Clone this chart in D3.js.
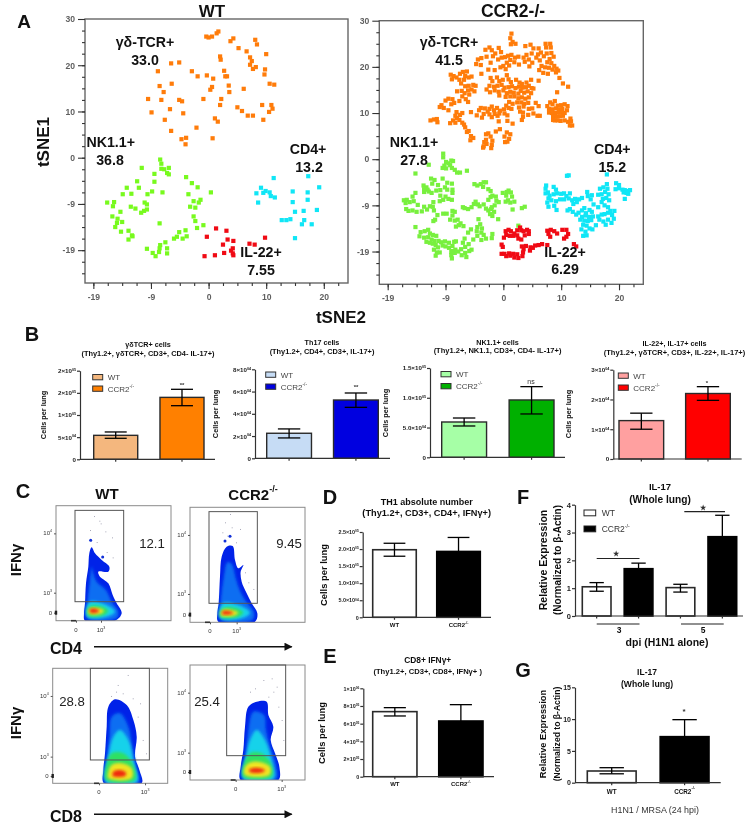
<!DOCTYPE html>
<html><head><meta charset="utf-8">
<script src="https://cdn.jsdelivr.net/npm/d3@7"></script>
<style>
html,body{margin:0;padding:0;background:#fff}
svg{display:block;font-family:"Liberation Sans",Arial,sans-serif;filter:blur(0.35px)}
</style></head><body>
<svg id="c" width="750" height="829"></svg>
<script>
// ---------- Panel A data (tSNE2, tSNE1) ----------
const tsneTickPositions=[-20,-10,0,10,20];
const tsneXLabels=["-19","-9","0","10","20"];
const tsneYPositions=[30,20,10,0,-10,-20];
const tsneYLabels=["30","20","10","0","-9","-19"];
const wtGammaDelta=[[-.4,26.2],[0,26],[.6,26.2],[1.4,26.9],[1.7,27.3],[3.8,25.2],[4.3,25.8],[5.2,23.7],[6.6,23],[8.1,25.5],[8.4,24.5],[10,22.4],[2,21.9],[2.1,21.2],[7.2,21.7],[7.5,20.9],[7.2,20.1],[7.7,19.2],[8.2,19.6],[9.8,19.1],[9.7,18],[10.6,16],[11.4,15.8],[2.7,18.8],[2.9,17.6],[3.2,17.6],[-.3,17.8],[.8,17.1],[-1.9,17.6],[-2.9,18.7],[-5.1,20.6],[-6.5,20.4],[-8.8,18.7],[-6.4,16],[-8.5,15.5],[-7.8,14.2],[-10.5,12.7],[-8.2,12.5],[-5.1,12.5],[-4.6,12.2],[-9.9,9.8],[-6.7,10.5],[-4.4,9.6],[-7.6,8.2],[-6.5,5.8],[-4.7,4],[-3.9,4.3],[-4,2.9],[-2.1,6.5],[.7,4.2],[-.9,12.7],[.3,14.7],[.6,15.3],[2.2,12.7],[2,11.4],[3.5,15.6],[3.6,14.2],[6.1,14.9],[5,10.9],[5.8,10.1],[6.8,9.1],[7.7,9.1],[9.3,11.4],[10.9,11.4],[11.1,10.6],[10.5,9.9],[9.5,8.2],[1.1,8.5],[1.6,7.8]];
const wtNK=[[-8.4,-.4],[-8.2,-1.3],[-8.2,-2.4],[-7.7,-2.5],[-6.9,-2.2],[-7.2,-3.3],[-6.9,-3.6],[-11.6,-2.2],[-9.4,-3.5],[-9.4,-5.2],[-12.4,-5.1],[-14.2,-6.5],[-14.9,-7.9],[-13.4,-7.8],[-12.1,-6.5],[-9.8,-7.3],[-10.6,-7.9],[-8,-7.5],[-17.6,-9.7],[-16.4,-9.6],[-16.6,-10.5],[-15.3,-11.7],[-16.7,-12.7],[-15.8,-13.2],[-15.9,-14.1],[-16.2,-15],[-15,-13.9],[-15.2,-16],[-13.9,-15.8],[-13.3,-16.8],[-13.9,-17.7],[-13.2,-17],[-13.5,-10.6],[-12.7,-11],[-11.1,-9.7],[-10.7,-10.1],[-10.7,-11.2],[-11.2,-11.5],[-11.7,-11.9],[-8.5,-14.2],[-3.9,-4.2],[-2.9,-5.5],[-1.9,-6.4],[.4,-7.5],[-3.5,-7.9],[-2.6,-9.4],[-1.4,-9.1],[-1.7,-9.7],[-3.2,-10.6],[-2.3,-10.8],[-2.6,-12.7],[-2.3,-13.7],[-2,-15.2],[-.9,-14.6],[-4,-15.7],[-5.1,-16.1],[-5.5,-17.1],[-6,-17.5],[-4.5,-17.5],[-3.8,-17],[-10.7,-19.7],[-9.7,-20.6],[-9.2,-21.3],[-8.4,-18.9],[-8.5,-19.6],[-8.6,-20.4],[-7.5,-18.3],[-7.2,-19.6],[-7.2,-20.7]];
const wtCD4=[[11.3,-4.4],[17.3,-4],[19.2,-6.4],[9.1,-6.5],[8.3,-7.7],[9.5,-7.6],[9.9,-7.2],[10.6,-7.5],[10.8,-8.3],[11.5,-8.6],[8.6,-9.7],[14.6,-7.3],[17.2,-7.5],[17.2,-9.1],[14.6,-9.6],[15,-11.7],[16.5,-11.5],[18.8,-11.3],[12.7,-13.5],[13.5,-13.5],[14.2,-13.3],[16.6,-13.5],[16.2,-14.4],[17.9,-14.4],[15,-17.4]];
const wtIL22=[[1.3,-15.3],[3.1,-15.8],[-.3,-17.1],[3.3,-17.7],[4.3,-18],[9.8,-17.3],[2.5,-18.8],[7.1,-18.6],[8,-18.8],[4.2,-19.6],[3.9,-20.1],[2.7,-20.6],[4.2,-20.7],[4.3,-21.1],[-.7,-21.3],[1.1,-21.1]];
const koGammaDelta=[[1.4,27.2],[1.2,26.2],[1.6,25.4],[2.1,25],[1.3,24.9],[3.8,24.5],[4.7,24.8],[5.2,24],[6.1,24],[6.5,23.1],[7.3,25],[8.1,25],[8.2,24.2],[7.4,24.2],[6,22.7],[5.7,22],[6.3,21.4],[7,22.3],[7.5,22.9],[8.3,23],[8.7,22.2],[8,21.7],[7.6,21],[8.3,20.8],[8.8,20.2],[9.2,19.6],[9.5,19.2],[9.1,18.8],[8.5,19.4],[7.9,19.8],[7.2,19.9],[6.6,20.2],[6.2,19.3],[6.9,18.7],[7.7,18.5],[9.7,17.6],[10.3,16.4],[11.2,15.7],[9.3,14.5],[6.1,17],[5.2,15.3],[-3.1,23.7],[-2.4,24.2],[-2,23.6],[-1.4,22.9],[-.8,24.1],[-.4,23.2],[-1.8,22.3],[-2.9,22.2],[-3.8,21.9],[-4.4,21.6],[-4.7,20.6],[-3.9,20.4],[-.9,21.6],[-.3,22],[.3,22.1],[.8,22.4],[1.4,22.6],[2,22],[2.6,22.2],[1.2,21.5],[.6,20.9],[0,20.2],[-.5,19.9],[.4,19.5],[1,20.3],[1.9,21],[2.7,20.5],[3.5,22],[4,22.6],[4.4,21.6],[4.9,22.9],[3.7,21.1],[5,20.9],[4.5,20.1],[-3.8,18.5],[-2.6,19.4],[-2.2,20.9],[-1.5,19.3],[-9.1,18.3],[-8.6,18],[-8.9,17.3],[-8.1,17.7],[-7.5,18.5],[-7,18.9],[-6.3,19],[-6.6,18],[-7.6,17.2],[-6.8,17.2],[-6,17.7],[-5.5,17.9],[-7.3,16.4],[-6.6,15.8],[-6,15.9],[-5.2,16.1],[-5.5,15.1],[-4.8,15.9],[-6.1,14.9],[-6.7,14.3],[-7.2,14.8],[-5,14.7],[-8,14.7],[-5.9,14],[-8.5,12.2],[-9.5,13.1],[-10,12.7],[-9,11.9],[-10.7,11.7],[-11,11.3],[-10.3,11.1],[-9.5,10.6],[-8.8,13],[-7.6,12.6],[-7.1,13.6],[-6.5,13],[-6.1,12.4],[-8.1,10.2],[-8.3,9.4],[-8,8.9],[-7.5,9.6],[-7.1,10],[-7.6,8.5],[-8.7,8.4],[-9.2,7.8],[-8.3,7.9],[-7.1,7.9],[-5.6,10.2],[-12.6,8.4],[-12,8.6],[-11.5,8.7],[-11.4,8],[-6.8,7.5],[-6.6,6.9],[-2.2,17.6],[-1.9,16.9],[-1.1,17.7],[-.7,16.9],[-.1,17.2],[.6,18.2],[.9,17.3],[1.3,16.7],[2.2,17.2],[2.8,16.6],[3.2,16.3],[4,16.6],[4.8,17.2],[-2.4,15.9],[-1.6,15.7],[-1,15.9],[-.3,16.1],[.2,15.5],[.9,15.6],[1.5,15.8],[2.1,15.4],[2.7,15.7],[3.3,15.5],[3.9,15.6],[4.4,15.9],[4.9,15.4],[-2.9,15.1],[-2.3,14.5],[-1.5,14.9],[-.8,14.6],[0,14.9],[.6,14.3],[1.2,14.6],[1.8,14.4],[2.6,14.2],[3,14.8],[3.6,14.4],[4.2,14.7],[4.8,14.3],[-.7,13.8],[.4,13.5],[1.2,13.6],[1.9,13.6],[2.6,13.2],[3.2,13.4],[3.8,13.1],[4.4,13.4],[2.4,12.3],[3.1,12.3],[3.6,12],[4.3,12.2],[1,12.4],[1.6,12],[.5,11.6],[5.6,12.2],[6.1,11.5],[5,11],[4.4,10.9],[3.5,11.4],[2.7,11.2],[1.4,10.9],[.9,11.1],[.1,10.8],[-.6,10.5],[-1.1,11.1],[-1.6,10.6],[-2,11.4],[-2.4,10.9],[-2.7,10.3],[-3.2,11],[-3.9,11.1],[-4.2,10.6],[-3.4,9.8],[-2.4,9.7],[-1.5,9.8],[-2,9.1],[-1,9.4],[-.7,9.9],[.2,9.9],[.7,9.5],[2.9,10.3],[3.4,10.1],[4.3,9.6],[5.2,9.9],[5.9,9.4],[6.3,9.4],[-3.7,9],[-4.6,9.5],[-.8,8.2],[.7,8.3],[1.6,7.7],[3.2,8.5],[3.4,9.2],[7.6,11.5],[8.1,12.3],[8.5,11.9],[8.9,12.6],[9.4,11.6],[10,11.7],[10.6,11.9],[11.1,11.5],[7.9,10.9],[8.5,10.8],[9.1,11],[9.6,10.8],[10.2,10.9],[11,10.6],[7.9,10.1],[8.4,10],[9,10],[9.6,10.1],[10.1,10.2],[10.6,10],[8.6,9.3],[9.2,9.2],[9.8,9.3],[10.3,9.4],[8.9,8.4],[9.4,8.4],[9.9,8.3],[10.6,8.4],[11.2,8.1],[11.7,8.2],[11.5,7.3],[11.9,7.3],[11.6,8.8],[8.6,8.5],[-6.3,5.9],[-6,6.1],[-5.6,5],[-5.2,4.6],[-5.7,4.1],[-3,5.4],[-2.6,5.6],[-2.2,4.9],[-1.3,6],[-.6,6.5],[.6,5.8],[1.2,5.4],[1,4.4],[.7,3.8],[.3,3.7],[.2,4.9],[-3,4.2],[-2.9,3.3],[-3.4,2.8],[-3.3,3.7],[-1.9,4],[-2,3.1],[-2.1,2.4],[-3.5,2.5]];
const koNK=[[-10.4,1.2],[-10.4,.4],[-9.9,-.6],[-10.2,-1.4],[-9.5,-.9],[-9,-.3],[-8.7,-.4],[-9.2,-1.3],[-9.9,-2],[-10.5,-1.9],[-8.9,-1.9],[-8.4,-2.3],[-8,-2.9],[-7.5,-2.9],[-6.3,-2.5],[-12.9,-1.2],[-15.2,-3.1],[-12.5,-4.2],[-11.9,-4.5],[-10.5,-4.2],[-9.7,-5.1],[-12.3,-5.3],[-13.8,-5.7],[-13.3,-6.1],[-13.7,-6.5],[-13.1,-6.6],[-13.7,-7.1],[-12.9,-7],[-12.4,-7.3],[-15.2,-7.3],[-15.7,-8.1],[-11.3,-5.6],[-11.6,-6.8],[-10.9,-6.7],[-10.1,-6.1],[-9.7,-6.6],[-8.9,-5.3],[-8.8,-6.6],[-8.8,-7.3],[-10.9,-7.9],[-10,-8.1],[-9.5,-8.6],[-8.9,-8.8],[-10.4,-8.8],[-11,-9.1],[-12.1,-9.3],[-16.7,-8.8],[-17.2,-8.9],[-16.9,-9.5],[-16.2,-9.3],[-15.5,-9.1],[-14.8,-9.9],[-16.8,-10.8],[-16.4,-11.2],[-15.7,-11.1],[-15,-11.4],[-14.1,-11.3],[-13.7,-10.3],[-13.2,-10.9],[-12.7,-10.2],[-12.2,-10.3],[-12,-11.1],[-11.4,-12.1],[-11.8,-13.1],[-12.1,-13.4],[-10.4,-11.8],[-9.8,-11.8],[-8.8,-11.2],[-8.4,-11.4],[-8.8,-12.2],[-9.2,-13.1],[-8.4,-13.3],[-7.9,-13.1],[-7.4,-13.9],[-7.7,-14.3],[-8.2,-14.6],[-6.9,-14.5],[-7,-10.4],[-6.7,-10.6],[-6.1,-10.8],[-5.5,-10.4],[-5.1,-9.7],[-4.8,-9.2],[-4.4,-9.8],[-4.1,-10.2],[-3.4,-9.8],[-3,-10.7],[-2.6,-11.1],[-2,-10.4],[-1.5,-10],[-2.6,-8.8],[-2.2,-8.2],[-1.9,-7.9],[-1.3,-8.1],[-1.2,-9],[-.8,-9.3],[-2.2,-6.9],[-2.6,-6.5],[.6,-7.1],[.9,-6.8],[1.3,-7.2],[-.1,-7.3],[.5,-7.9],[1.5,-8.1],[.8,-8.9],[1.2,-9.4],[.4,-9.2],[1.9,-9.2],[-5,-5.4],[-4.5,-5.7],[-3.9,-5.4],[-3.4,-5],[-3,-5],[-3.5,-6],[-2.1,-10.8],[-1.6,-11.4],[-1.9,-12.3],[-2.3,-11.9],[-.9,-13],[1.6,-10.9],[3.2,-10.6],[3.7,-10.3],[2.6,-14.4],[-4.3,-13],[-4,-14.1],[-4.5,-14.7],[-3.7,-15],[-4.6,-15.6],[-3.8,-15.9],[-5.6,-15.2],[-6.1,-15.9],[-3.4,-16.4],[-4.5,-16.6],[-5.2,-17.4],[-3.8,-17.5],[-3,-17.2],[-2,-17.1],[-1.9,-16.2],[-6.7,-17.2],[-7,-18.1],[-6,-18.4],[-5.5,-19.6],[-15.2,-14.7],[-14.3,-15.8],[-14.5,-16.7],[-13.6,-15.6],[-13,-15.3],[-12.7,-16.1],[-13,-16.9],[-12.2,-16.4],[-12.4,-17.4],[-11.6,-16.6],[-11.9,-17.7],[-11.2,-17.7],[-13.7,-17],[-13.3,-17.9],[-12.7,-18.1],[-12.2,-18.3],[-11.7,-18.6],[-11.3,-19.1],[-12,-19.6],[-11.5,-20.2],[-11.7,-20.9],[-11,-20.2],[-10.5,-18.7],[-10.8,-18],[-10.1,-17.8],[-9.4,-18.1],[-10,-18.9],[-9.4,-19.2],[-8.8,-18.8],[-8.5,-17.9],[-8.2,-17.8],[-9,-20.1],[-9,-20.8],[-8.9,-21.5],[-8.8,-19.9],[-8.3,-19.6],[-8.4,-20.3],[-7.8,-20],[-7.3,-19.5],[-7.2,-20.8],[-6.4,-21.2],[-6.6,-20.3],[-5.9,-19.9],[-6.6,-19]];
const koCD4=[[11.3,-3.5],[11,-3.6],[17.9,-3.3],[7.4,-5.7],[7.3,-6.4],[8.7,-6],[9.1,-6.6],[7.7,-7.2],[7.3,-7.4],[8,-7.9],[8.7,-7.6],[9.3,-7.4],[10,-7.5],[10.5,-7.4],[10.9,-8],[11.5,-7.4],[7.8,-8.5],[8.3,-8.9],[7.6,-9.4],[9.1,-9.1],[9.8,-8.7],[10.5,-8.7],[11.3,-8.5],[11.9,-8.9],[12.4,-8.6],[13.1,-8.7],[13.6,-8.4],[12.1,-9.7],[12.7,-9.3],[8.8,-10.1],[7.8,-10.3],[9.2,-11],[11.1,-11.1],[11.5,-10.8],[12,-11.4],[14.5,-7.1],[14.6,-8],[15.1,-8.7],[15.3,-7.8],[15.6,-9.8],[16.4,-7.7],[16.7,-6.4],[17.3,-6.1],[17.9,-5.4],[18,-6.4],[17.6,-7.1],[17,-7.6],[17.2,-8.6],[17.8,-8.4],[18.2,-7.6],[18.3,-8.9],[17,-9.3],[16.4,-10.4],[17.5,-10],[18.1,-10.4],[19.5,-5.2],[20,-5.6],[20,-6.3],[19.4,-6.5],[20.6,-6.6],[21,-6.7],[21.4,-6.9],[21.9,-6.7],[21.6,-7.5],[21.3,-7.3],[20.8,-7.2],[21,-8.6],[14,-10.6],[13.6,-11.1],[13,-11.6],[12.6,-12],[14.3,-11.7],[14.9,-11],[15.3,-11.4],[14.2,-12.2],[13.6,-12.5],[14.8,-12.5],[15.5,-12.4],[13.3,-13.1],[14,-13.3],[14.6,-13.4],[15.2,-13.2],[13.8,-14.2],[14.4,-14.4],[13.5,-15.2],[14.9,-15],[14.2,-15.7],[13.8,-16.6],[14.4,-16.5],[15.4,-15.2],[16,-14.3],[16.4,-12.4],[17,-12],[17.5,-11.9],[18.1,-11.6],[18.5,-11.2],[19.2,-11.2],[18.8,-12.1],[16.6,-13.1],[17.3,-13.5],[18.1,-13.1],[17.7,-14.2],[18.7,-13.8],[19.1,-12.9]];
const koIL22=[[.4,-15.6],[.9,-15.3],[1.3,-15.6],[.5,-16.4],[.1,-17],[1.1,-16.6],[1.7,-16.6],[2.4,-15.4],[2.9,-14.8],[3.1,-15.4],[3.5,-15.6],[4.1,-15.3],[4.4,-15.6],[4.4,-16.2],[3.7,-16.5],[2.4,-16.5],[2.6,-17.2],[3.1,-17.4],[1.9,-16.1],[7.6,-15.5],[8.2,-15.3],[8.8,-15.6],[7.8,-16.2],[8.1,-16.8],[9.3,-16.1],[10.2,-15.3],[10.9,-15.3],[11.2,-16.2],[10.9,-16.8],[10.5,-17.2],[-.3,-18.5],[-.1,-19],[-.3,-20.5],[.2,-20.5],[.5,-21],[1,-20.4],[1.7,-20.5],[1.9,-21.3],[2.4,-20.6],[2.6,-21.4],[3.3,-21],[3.4,-20.2],[3.5,-19.5],[3.2,-18.9],[3.9,-18.8],[4.7,-19.1],[4.6,-19.8],[5.1,-19.2],[5.5,-18.7],[6.1,-18.6],[6.7,-18.4],[7.6,-18.6],[12.2,-18.4],[12.6,-18.9],[1.2,-20.9]];

// ---------- Panel B data ----------
const groups=["WT","CCR2-/-"];
const b1Values=[54100,139800],b1Hi=[61700,158000],b1Lo=[47400,121000];
const b2Values=[22500,52400],b2Hi=[26400,58700],b2Lo=[18300,45800];
const b3Values=[59300,96300],b3Hi=[66000,118700],b3Lo=[52600,72800];
const b4Values=[12900,22000],b4Hi=[15400,24300],b4Lo=[10000,19700];
const b1Ticks=[0,50000,100000,150000,200000],b1TickLabels=["0","5×10^04","1×10^05","2×10^05","2×10^05"];
const b2Ticks=[0,20000,40000,60000,80000],b2TickLabels=["0","2×10^04","4×10^04","6×10^04","8×10^04"];
const b3Ticks=[0,50000,100000,150000],b3TickLabels=["0","5.0×10^04","1.0×10^05","1.5×10^05"];
const b4Ticks=[0,10000,20000,30000],b4TickLabels=["0","1×10^04","2×10^04","3×10^04"];
// ---------- Panels D,E,F,G data ----------
const dValues=[198000,193000],dHi=[217000,234000],dLo=[179000,152000];
const dTicks=[0,50000,100000,150000,200000,250000],dTickLabels=["0","5.0×10^04","1.0×10^05","1.5×10^05","2.0×10^05","2.5×10^05"];
const eValues=[736000,630000],eHi=[781000,815000],eLo=[687000,445000];
const eTicks=[0,200000,400000,600000,800000,1000000],eTickLabels=["0","2×10^05","4×10^05","6×10^05","8×10^05","1×10^06"];
const fCats=["3 WT","3 CCR2","5 WT","5 CCR2"];
const fValues=[1.05,1.7,1.02,2.85],fHi=[1.2,1.9,1.14,3.62],fLo=[.89,1.5,.86,2.08];
const fTicks=[0,1,2,3,4];
const gValues=[1.84,7.24],gHi=[2.36,9.91],gLo=[1.4,4.6];
const gTicks=[0,5,10,15];

// ---------- Panel C data: density shapes in cytometer channels ----------
const c1Shapes=[
[[87,0],[177,0],[197,22],[182,52],[170,77],[157,112],[132,132],[127,147],[157,147],[160,162],[137,182],[117,202],[107,220],[100,202],[97,162],[90,112],[87,52],[84,22]],
[[94,7],[182,7],[187,27],[167,57],[150,92],[122,117],[112,142],[107,162],[102,122],[94,52]],
[[94,12],[152,12],[177,27],[152,47],[102,57],[92,42]],
[[97,14],[142,16],[157,30],[132,44],[102,44],[94,32]],
[[100,20],[132,20],[144,30],[127,38],[104,38],[96,29]],
[[104,24],[122,24],[130,30],[117,36],[104,35],[100,30]]];
const c2Shapes=[
[[85,2],[195,2],[202,27],[185,57],[170,87],[155,122],[152,152],[160,172],[145,162],[135,187],[128,229],[110,227],[95,197],[90,137],[86,57],[82,27]],
[[92,8],[188,8],[192,30],[170,60],[150,95],[138,130],[125,175],[112,180],[102,140],[92,60]],
[[92,12],[155,12],[180,28],[155,48],[100,58],[90,42]],
[[92,15],[145,17],[160,30],[135,44],[102,44],[90,32]],
[[94,20],[132,20],[145,29],[125,37],[100,38],[92,29]],
[[98,24],[122,24],[130,29],[115,34],[100,34],[96,29]]];
const c3Shapes=[
[[154,0],[267,0],[260,40],[247,80],[252,140],[242,190],[222,235],[187,252],[167,230],[162,170],[157,90],[152,40]],
[[160,2],[257,2],[247,60],[237,120],[227,170],[202,210],[177,200],[170,140],[162,70]],
[[160,5],[252,5],[244,60],[227,130],[202,160],[182,140],[167,80]],
[[160,10],[247,10],[242,55],[212,90],[177,90],[162,60]],
[[167,15],[237,15],[237,45],[207,60],[177,55],[167,35]],
[[180,22],[217,22],[220,32],[202,40],[182,35]]];
const c4Shapes=[
[[152,0],[265,0],[268,40],[255,80],[242,120],[250,160],[235,195],[230,235],[200,235],[175,220],[165,160],[160,90],[152,40]],
[[160,2],[258,2],[258,45],[240,100],[228,150],[222,195],[190,205],[175,150],[168,80]],
[[160,5],[250,5],[246,55],[225,120],[200,150],[180,120],[168,70]],
[[160,10],[245,10],[245,45],[215,80],[180,80],[162,50]],
[[165,15],[238,15],[240,40],[205,55],[175,50],[162,32]],
[[180,23],[218,23],[225,30],[200,37],[178,32]]];
const c1Sparse=[[114,314],[130,300],[102,272],[148,268],[104,240],[122,236],[152,206],[170,190],[134,292],[168,250]];
const c2Sparse=[[120,325],[105,300],[125,285],[150,280],[112,260],[138,240],[165,150],[175,120],[190,100],[97,270]];
const c3Sparse=[[225,325],[190,275],[210,270],[240,255],[175,262],[262,240],[255,200],[270,130],[280,90],[195,295]];
const c4Sparse=[[245,305],[220,300],[260,280],[180,265],[235,250],[265,220],[275,180],[280,120],[195,275],[250,265]];
const c1Dots=[[104,241],[140,191]],c2Dots=[[105,244],[120,258]];
const densityColours=["#0620e8","#0a6ef2","#18d2ea","#2fe063","#f0e420","#f02c10"];
const percentLabels=["12.1","9.45","28.8","25.4"];

// ---------- helpers ----------
const svg=d3.select("#c");
const defs=svg.append("defs");
[["b1",.5],["b2",1.8]].forEach(([id,s])=>defs.append("filter").attr("id",id).attr("x","-20%").attr("y","-20%").attr("width","140%").attr("height","140%").append("feGaussianBlur").attr("stdDeviation",s));
defs.append("marker").attr("id","arrow").attr("viewBox","0 0 10 10").attr("refX",9).attr("refY",5).attr("markerWidth",9).attr("markerHeight",8).attr("markerUnits","userSpaceOnUse").attr("orient","auto").append("path").attr("d","M0,0L10,5L0,10Z").attr("fill","#111");

function txt(p,x,y,s,o={}){
  const t=p.append("text").attr("x",x).attr("y",y).attr("text-anchor",o.anchor||"middle").attr("dominant-baseline","central")
    .attr("font-size",o.size||10).attr("font-weight",o.weight||"bold").attr("fill",o.fill||"#111");
  if(o.rotate)t.attr("transform",`rotate(${o.rotate} ${x} ${y})`);
  rich(t,s,o.size||10);
  return t;
}
function rich(t,s,size){ // "^" starts a superscript up to the end
  const m=String(s).split("^");
  t.append("tspan").text(m[0]);
  if(m[1]!==undefined)t.append("tspan").attr("font-size",size*.6).attr("dy",-size*.35).text(m[1]);
}
const group2Text=g=>g==="WT"?"WT":"CCR2^-/-";

// ---------- Panel A ----------
function tsne(box,sets){
  const x=d3.scaleLinear().domain([-21.45,24.2]).range([box.l,box.r]);
  const y=d3.scaleLinear().domain([-27.1,30]).range([box.b,box.t]);
  const g=svg.append("g");
  g.append("rect").attr("x",box.l).attr("y",box.t).attr("width",box.r-box.l).attr("height",box.b-box.t).attr("fill","none").attr("stroke","#666").attr("stroke-width",1.4);
  const xMin=d3.axisBottom(x).tickValues(d3.range(-20,24,2.5)).tickSize(3).tickFormat("");
  const yMin=d3.axisLeft(y).tickValues(d3.range(-25,30,2.5)).tickSize(3).tickFormat("");
  const ax=g.append("g").attr("transform",`translate(0,${box.b})`).call(xMin);
  const ay=g.append("g").attr("transform",`translate(${box.l},0)`).call(yMin);
  const xMaj=d3.axisBottom(x).tickValues(tsneTickPositions).tickSize(6).tickPadding(5).tickFormat((d,i)=>tsneXLabels[i]);
  const yMaj=d3.axisLeft(y).tickValues(tsneYPositions).tickSize(7).tickPadding(3).tickFormat((d,i)=>tsneYLabels[i]);
  const bx=g.append("g").attr("transform",`translate(0,${box.b})`).call(xMaj);
  const by=g.append("g").attr("transform",`translate(${box.l},0)`).call(yMaj);
  [ax,ay,bx,by].forEach(a=>{a.select(".domain").remove();a.selectAll("line").attr("stroke","#333").attr("stroke-width",1.1);
    a.selectAll("text").attr("font-size",8.6).attr("fill","#444").attr("font-family",'"Liberation Sans"').attr("font-weight","bold").attr("opacity",.85);});
  sets.forEach(([pts,col])=>g.append("g").selectAll("rect").data(pts).join("rect")
    .attr("x",d=>x(d[0])-2.1).attr("y",d=>y(d[1])-2.1).attr("width",4.2).attr("height",4.2).attr("fill",col));
}
tsne({l:85,r:348,t:19,b:283},[[wtGammaDelta,"#ff7c0a"],[wtNK,"#78fa1e"],[wtCD4,"#10e6f6"],[wtIL22,"#f00a14"]]);
tsne({l:379.3,r:643.3,t:20.7,b:284.3},[[koGammaDelta,"#ff7c0a"],[koNK,"#78f03e"],[koCD4,"#10e6f6"],[koIL22,"#f00a14"]]);
const aLabels=[["γδ-TCR+",145,42],["33.0",145,60],["NK1.1+",110.7,142],["36.8",110,160],["CD4+",308,149],["13.2",309,167],["IL-22+",261,252],["7.55",261,270],
["γδ-TCR+",449,42],["41.5",449,60],["NK1.1+",414,142],["27.8",414,160],["CD4+",612.3,149],["15.2",612.3,167],["IL-22+",565,252],["6.29",565,269]];
aLabels.forEach(l=>txt(svg,l[1],l[2],l[0],{size:14.2}));
txt(svg,212,11,"WT",{size:17});
txt(svg,513,11,"CCR2-/-",{size:17.5});
txt(svg,43,142,"tSNE1",{size:17,rotate:-90});
txt(svg,341,317,"tSNE2",{size:17});
[["A",24,21,19],["B",32,334,20],["C",23,491,20],["D",330,497,20],["E",330,656,20],["F",523,497,20],["G",523,670,20]].forEach(l=>txt(svg,l[1],l[2],l[0],{size:l[3]}));

// ---------- bar panels ----------
function bars(o){
  const g=svg.append("g");
  if(o.soft)g.attr("filter","url(#b1)");
  const y=d3.scaleLinear().domain([0,o.max]).range([o.y0,o.yTop]);
  const x=d3.scaleBand().domain(o.cats).range([o.barL,o.barR]).paddingInner(o.pad);
  const colours=o.colours;
  g.selectAll(".bar").data(o.values).join("rect").attr("class","bar")
    .attr("x",(d,i)=>x(o.cats[i])).attr("y",d=>y(d)).attr("width",x.bandwidth()).attr("height",d=>o.y0-y(d))
    .attr("fill",(d,i)=>colours[i%colours.length]).attr("stroke",(d,i)=>colours[i%colours.length]==="#000"?"#000":"#2a2a2a").attr("stroke-width",o.sw||1.4);
  const cap=x.bandwidth()*.25;
  o.values.forEach((v,i)=>{
    const c=x(o.cats[i])+x.bandwidth()/2;
    g.append("line").attr("x1",c).attr("x2",c).attr("y1",y(o.hi[i])).attr("y2",y(o.lo[i])).attr("stroke","#000").attr("stroke-width",1.3);
    [o.hi[i],o.lo[i]].forEach(e=>g.append("line").attr("x1",c-cap).attr("x2",c+cap).attr("y1",y(e)).attr("y2",y(e)).attr("stroke","#000").attr("stroke-width",1.3));
  });
  const ay=g.append("g").attr("transform",`translate(${o.axisX},0)`)
    .call(d3.axisLeft(y).tickValues(o.ticks).tickSize(3).tickPadding(1).tickSizeOuter(0).tickFormat(""));
  ay.selectAll(".tick text").each(function(d,i){const t=d3.select(this).attr("font-size",o.tickSize||6.2).attr("font-weight","bold").attr("fill","#222").attr("font-family",'"Liberation Sans"');rich(t,(o.tickLabels||o.ticks)[i],o.tickSize||6.2);});
  ay.selectAll("line,path").attr("stroke","#333").attr("stroke-width",1.2);
  const ax=g.append("g").attr("transform",`translate(0,${o.y0})`).call(d3.axisBottom(x).tickSize(2.5).tickSizeOuter(0).tickFormat(""));
  ax.select(".domain").attr("d",`M${o.axisX},0H${o.xEnd}`);
  ax.selectAll("line,path").attr("stroke","#333").attr("stroke-width",1.2);
  if(o.xLabels)o.cats.forEach((c,i)=>txt(g,x(c)+x.bandwidth()/2,o.y0+o.xLabelDy,group2Text(c),{size:o.xLabelSize||5.8}));
  if(o.legend){const L=o.legend;o.cats.forEach((c,i)=>{
    g.append("rect").attr("x",L.x).attr("y",L.ys[i]).attr("width",10).attr("height",5.3).attr("fill",colours[i]).attr("stroke","#333").attr("stroke-width",1);
    txt(g,L.x+15,L.ys[i]+2.7,group2Text(c),{anchor:"start",size:L.size||8,weight:"normal",fill:"#444"});
  });}
  (o.titles||[]).forEach(t=>txt(g,t[1],t[2],t[0],{size:t[3]}));
  (o.ylabels||[]).forEach(t=>txt(g,t[1],t[2],t[0],{size:t[3],rotate:-90}));
  (o.stars||[]).forEach(t=>txt(g,t[1],t[2],t[0],{size:t[3]||6,weight:t[4]||"bold",fill:"#333"}));
  return {g,x,y};
}
bars({soft:1,cats:groups,values:b1Values,hi:b1Hi,lo:b1Lo,max:200000,ticks:b1Ticks,tickLabels:b1TickLabels,y0:459.3,yTop:370.7,axisX:80,xEnd:215,barL:93.7,barR:204,pad:.336,colours:["#f4b77e","#ff8000"],
 legend:{x:92.7,ys:[374.5,386]},titles:[["γδTCR+ cells",148,344,7.2],["(Thy1.2+, γδTCR+, CD3+, CD4- IL-17+)",148,353.3,7.4]],ylabels:[["Cells per lung",43,415,7.3]],stars:[["**",182,385,6]]});
bars({soft:1,cats:groups,values:b2Values,hi:b2Hi,lo:b2Lo,max:80000,ticks:b2Ticks,tickLabels:b2TickLabels,y0:458.3,yTop:369.3,axisX:255,xEnd:390,barL:266.7,barR:378.3,pad:.33,colours:["#c6dcf5","#0000e0"],
 legend:{x:265.7,ys:[372,384]},titles:[["Th17 cells",322,342,7.2],["(Thy1.2+, CD4+, CD3+, IL-17+)",322,351,7.4]],ylabels:[["Cells per lung",215,414,7.3]],stars:[["**",356,387,6]]});
bars({soft:1,cats:groups,values:b3Values,hi:b3Hi,lo:b3Lo,max:150000,ticks:b3Ticks,tickLabels:b3TickLabels,y0:457.3,yTop:368,axisX:430,xEnd:565,barL:441.7,barR:554,pad:.335,colours:["#a6ffa6","#00b000"],
 legend:{x:441,ys:[371.5,383.5]},titles:[["NK1.1+ cells",497.5,341.5,7.2],["(Thy1.2+, NK1.1, CD3+, CD4- IL-17+)",497.5,350,7.5]],ylabels:[["Cells per lung",385,413,7.3]],stars:[["ns",531,381,7,"normal"]]});
bars({soft:1,cats:groups,values:b4Values,hi:b4Hi,lo:b4Lo,max:30000,ticks:b4Ticks,tickLabels:b4TickLabels,y0:459,yTop:369.7,axisX:613.3,xEnd:741.7,barL:619,barR:730.3,pad:.33,colours:["#ffa0a0","#ff0000"],
 legend:{x:618.3,ys:[373,385]},titles:[["IL-22+, IL-17+ cells",674.5,342.5,7.2],["(Thy1.2+, γδTCR+, CD3+, IL-22+, IL-17+)",674.5,351.5,7.5]],ylabels:[["Cells per lung",568.3,414,7.3]],stars:[["*",707,383,6]]});
bars({soft:1,cats:groups,values:dValues,hi:dHi,lo:dLo,max:250000,ticks:dTicks,tickLabels:dTickLabels,y0:617.3,yTop:532,axisX:362.7,xEnd:491,barL:372.7,barR:480.3,pad:.32,colours:["#fff","#000"],sw:1.6,xLabels:1,xLabelDy:7.5,xLabelSize:6,tickSize:5.4,
 titles:[["TH1 absolute number",426.7,501.7,9],["(Thy1.2+, CD3+, CD4+, IFNγ+)",426.7,513.3,9.2]],ylabels:[["Cells per lung",322.7,575,9.4]]});
bars({soft:1,cats:groups,values:eValues,hi:eHi,lo:eLo,max:1000000,ticks:eTicks,tickLabels:eTickLabels,y0:776.7,yTop:688.3,axisX:363.3,xEnd:494,barL:372.7,barR:483,pad:.33,colours:["#fff","#000"],sw:1.6,xLabels:1,xLabelDy:7.5,xLabelSize:6,tickSize:5.4,
 titles:[["CD8+ IFNγ+",427.7,660,8.4],["(Thy1.2+, CD3+, CD8+, IFNγ+ )",427.7,671,7.6]],ylabels:[["Cells per lung",321,733,9.4]]});
const F=bars({soft:1,cats:fCats,values:fValues,hi:fHi,lo:fLo,max:4,ticks:fTicks,y0:616,yTop:504.7,axisX:575,xEnd:743,barL:582.3,barR:736.7,pad:.315,colours:["#fff","#000"],sw:1.6,tickSize:7.5,
 titles:[["IL-17",660,486,9.5],["(Whole lung)",660,499,10.2],["3",619,630,8.5],["5",703,630,8.5],["dpi (H1N1 alone)",667,642,10.5]],
 ylabels:[["Relative Expression",543.3,560,10.6],["(Normalized to β-Actin)",557.3,560,10]],stars:[["★",616,553,7],["★",703,507,7]]});
[[596.7,639.5,558.5],[684.3,725,511.7],[596.7,639.5,624],[681,723.7,624]].forEach(l=>F.g.append("line").attr("x1",l[0]).attr("x2",l[1]).attr("y1",l[2]).attr("y2",l[2]).attr("stroke","#222").attr("stroke-width",1.2));
[[0,510],[1,526]].forEach(([i,y])=>{F.g.append("rect").attr("x",584).attr("y",y).attr("width",11.7).attr("height",5.8).attr("fill",["#fff","#000"][i]).attr("stroke","#222");
 txt(F.g,601.7,y+2.9,group2Text(groups[i]),{anchor:"start",size:8.5,weight:"normal",fill:"#333"});});
const G=bars({soft:1,cats:groups,values:gValues,hi:gHi,lo:gLo,max:15,ticks:gTicks,y0:782.7,yTop:687.3,axisX:575,xEnd:720.7,barL:587.3,barR:709,pad:.33,colours:["#fff","#000"],sw:1.6,xLabels:1,xLabelDy:8,xLabelSize:6.3,tickSize:7,
 titles:[["IL-17",647,672,8.5],["(Whole lung)",647,684,8.6]],ylabels:[["Relative Expression",543.3,734,9.3],["(Normalized to β-Actin)",556.7,734,8.6]],stars:[["*",684,711,8]]});
txt(G.g,655,810,"H1N1 / MRSA (24 hpi)",{size:8.9,weight:"normal",fill:"#333"});

// ---------- Panel C flow plots ----------
const smooth=d3.line().curve(d3.curveCatmullRomClosed.alpha(.5));
function flow(i,o){
  const x=d3.scaleLinear().domain([0,345]).range([o.l,o.l+115]);
  const y=d3.scaleLinear().domain([0,345]).range([o.b,o.b-115]);
  const g=svg.append("g");
  const id="clip"+i;
  defs.append("clipPath").attr("id",id).append("rect").attr("x",o.l).attr("y",o.b-115).attr("width",115).attr("height",115);
  const d=g.append("g").attr("clip-path",`url(#${id})`);
  o.sparse.forEach(p=>d.append("rect").attr("x",x(p[0])).attr("y",y(p[1])).attr("width",1).attr("height",1).attr("fill","#a8a8b8"));
  (o.dots||[]).forEach(p=>d.append("circle").attr("cx",x(p[0])).attr("cy",y(p[1])).attr("r",1.5).attr("fill","#1030d8"));
  o.shapes.forEach((s,j)=>d.append("path").attr("d",smooth(s.map(p=>[x(p[0]),y(p[1])]))).attr("fill",densityColours[j]).attr("filter",`url(#${j===0?"b1":"b2"})`));
  g.append("rect").attr("x",o.l).attr("y",o.b-115).attr("width",115).attr("height",115).attr("fill","none").attr("stroke","#8a8a8a").attr("stroke-width",1);
  g.append("rect").attr("x",x(o.gate[0])).attr("y",y(o.gate[3])).attr("width",x(o.gate[1])-x(o.gate[0])).attr("height",y(o.gate[2])-y(o.gate[3])).attr("fill","none").attr("stroke","#555").attr("stroke-width",1);
  const ax=g.append("g").attr("transform",`translate(0,${o.b})`).call(d3.axisBottom(x).tickValues(o.xt).tickSize(2).tickPadding(3).tickFormat(""));
  const ay=g.append("g").attr("transform",`translate(${o.l},0)`).call(d3.axisLeft(y).tickValues(o.yt).tickSize(2).tickPadding(3).tickFormat(""));
  [ax,ay].forEach(a=>{a.select(".domain").remove();a.selectAll("line").attr("stroke","#555");});
  // piled-up events on the axes at channel zero
  g.append("rect").attr("x",o.l-1.2).attr("y",y(o.yt[0])-2).attr("width",2.4).attr("height",4).attr("fill","#222");
  g.append("rect").attr("x",x(o.xt[0])-5).attr("y",o.b-.8).attr("width",5).attr("height",1.6).attr("fill","#333");
  o.xt.forEach((v,k)=>txt(g,x(v),o.b+9,["0","10^3"][k],{size:6,weight:"normal",fill:"#333"}));
  o.yt.forEach((v,k)=>txt(g,o.l-4,y(v),["0","10^3","10^4"][k],{size:6,weight:"normal",fill:"#333",anchor:"end"}));
  txt(g,o.lx,o.ly,percentLabels[i],{size:13.2,weight:"normal",fill:"#222"});
}
flow(0,{l:56,b:620.7,shapes:c1Shapes,sparse:c1Sparse,dots:c1Dots,gate:[57,203,57,331],xt:[60,135],yt:[24,84,262],lx:152,ly:543});
flow(1,{l:190,b:622.3,shapes:c2Shapes,sparse:c2Sparse,dots:c2Dots,gate:[57,202,57,332],xt:[60,140],yt:[23,85,262],lx:289,ly:543});
flow(2,{l:52.7,b:783.3,shapes:c3Shapes,sparse:c3Sparse,gate:[113,290,70,345],xt:[139,277],yt:[22,80,262],lx:72,ly:700.7});
flow(3,{l:190,b:780,shapes:c4Shapes,sparse:c4Sparse,gate:[110,287,73,345],xt:[137,275],yt:[24,82,262],lx:207,ly:700.7});
txt(svg,107,493,"WT",{size:15});
txt(svg,253,494,"CCR2^-/-",{size:15});
txt(svg,15,560,"IFNγ",{size:15,rotate:-90});
txt(svg,15,723,"IFNγ",{size:15,rotate:-90});
txt(svg,66,648,"CD4",{size:16});
txt(svg,66,815.7,"CD8",{size:16});
[646.7,814.3].forEach(y=>svg.append("line").attr("x1",94).attr("x2",291.7).attr("y1",y).attr("y2",y).attr("stroke","#111").attr("stroke-width",1.4).attr("marker-end","url(#arrow)"));
</script>
</body></html>
